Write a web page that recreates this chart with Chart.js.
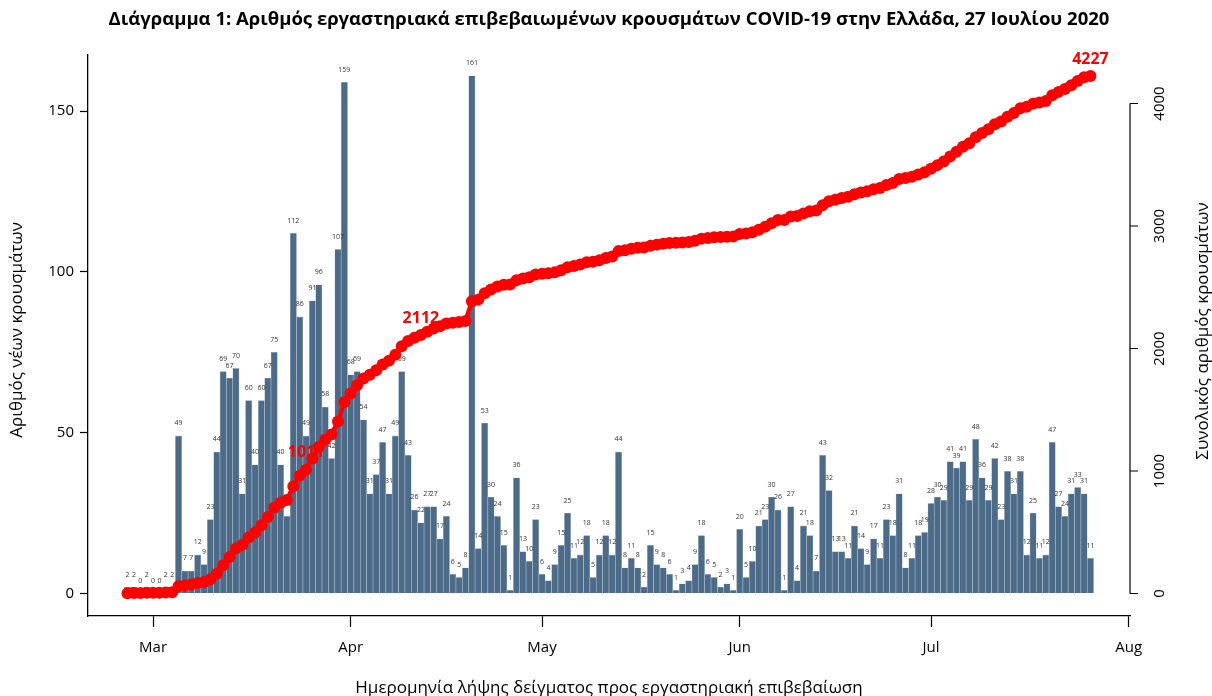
<!DOCTYPE html>
<html>
<head>
<meta charset="utf-8">
<script src="https://cdn.jsdelivr.net/npm/chart.js@4.4.1/dist/chart.umd.min.js"></script>
<style>
  html, body { margin: 0; padding: 0; background: #ffffff; }
  #wrap { width: 1212px; height: 696px; position: relative; }
  canvas { display: block; }
</style>
</head>
<body>
<div id="wrap"><canvas id="c" width="1212" height="696"></canvas></div>
<script>
// ---------------- DATA ----------------
const titleText = 'Διάγραμμα 1: Αριθμός εργαστηριακά επιβεβαιωμένων κρουσμάτων COVID-19 στην Ελλάδα, 27 Ιουλίου 2020';
const xTitle = 'Ημερομηνία λήψης δείγματος προς εργαστηριακή επιβεβαίωση';
const yLeftTitle = 'Αριθμός νέων κρουσμάτων';
const yRightTitle = 'Συνολικός αριθμός κρουσμάτων';

const firstDate = '2020-02-26';        // date of first bar
const firstDayOffset = -4;             // Feb 26 relative to Mar 1

// daily new cases, Feb 26 .. Feb 29
const febCases = [2, 2, 0, 2];
// March 1 .. 31
const marCases = [0, 0, 2, 2, 49, 7, 7, 12, 9, 23, 44, 69, 67, 70, 31, 60, 40, 60, 67, 75, 40, 24, 112, 86, 49, 91, 96, 58, 42, 107, 159];
// April 1 .. 30
const aprCases = [68, 69, 54, 31, 37, 47, 31, 49, 69, 43, 26, 22, 27, 27, 17, 24, 6, 5, 8, 161, 14, 53, 30, 24, 15, 1, 36, 13, 10, 23];
// May 1 .. 31
const mayCases = [6, 4, 9, 15, 25, 11, 12, 18, 5, 12, 18, 12, 44, 8, 11, 8, 2, 15, 9, 8, 6, 1, 3, 4, 9, 18, 6, 5, 2, 3, 1];
// June 1 .. 30
const junCases = [20, 5, 10, 21, 23, 30, 26, 1, 27, 4, 21, 18, 7, 43, 32, 13, 13, 11, 21, 14, 9, 17, 11, 23, 18, 31, 8, 11, 18, 19];
// July 1 .. 26
const julCases = [28, 30, 29, 41, 39, 41, 29, 48, 36, 29, 42, 23, 38, 31, 38, 12, 25, 11, 12, 47, 27, 24, 31, 33, 31, 11];

// labelled cumulative totals (index of day from first bar, text)
const cumLabelIdx = [28, 46, 151];
const cumLabelText = ['1011', '2112', '4227'];

// x-axis ticks (days from Mar 1) and labels
const monthTickDays = [0, 31, 61, 92, 122, 153];
const monthTickLabels = ['Mar', 'Apr', 'May', 'Jun', 'Jul', 'Aug'];

const leftTicks = [0, 50, 100, 150];
const rightTicks = [0, 1000, 2000, 3000, 4000];

// ---------------- BUILD ----------------
const daily = [].concat(febCases, marCases, aprCases, mayCases, junCases, julCases);
const cumulative = [];
daily.reduce((s, v) => { const t = s + v; cumulative.push(t); return t; }, 0);
const xs = daily.map((v, i) => i + firstDayOffset);

const FONT = "'Open Sans', 'DejaVu Sans', sans-serif";
const BAR_COLOR = '#4b6b89';
const RED = '#ff0000';

const overlay = {
  id: 'overlay',
  afterDatasetDraw(chart, args) {
    if (args.index !== 1) return;
    const ctx = chart.ctx;
    const meta = chart.getDatasetMeta(1);
    const ys = chart.scales.y;
    ctx.save();
    ctx.font = '7px ' + FONT;
    ctx.fillStyle = '#333333';
    ctx.textAlign = 'center';
    ctx.textBaseline = 'middle';
    meta.data.forEach((bar, i) => {
      const top = ys.getPixelForValue(daily[i]);
      ctx.fillText(String(daily[i]), bar.x, top - 12.5);
    });
    ctx.restore();
  },
  afterDraw(chart) {
    const ctx = chart.ctx;
    const ca = chart.chartArea;
    const y2 = chart.scales.y2;
    const meta = chart.getDatasetMeta(0);
    ctx.save();
    // cumulative labels
    ctx.font = 'bold 16px ' + FONT;
    ctx.fillStyle = RED;
    ctx.textAlign = 'center';
    ctx.textBaseline = 'middle';
    cumLabelIdx.forEach((idx, k) => {
      const p = meta.data[idx];
      ctx.fillText(cumLabelText[k], p.x, p.y - 17);
    });

    // right axis (line only between first and last tick)
    const xr = ca.right;
    const yTop = y2.getPixelForValue(rightTicks[rightTicks.length - 1]);
    const yBot = y2.getPixelForValue(rightTicks[0]);
    ctx.strokeStyle = '#000';
    ctx.lineWidth = 1.2;
    ctx.beginPath();
    ctx.moveTo(xr, yTop); ctx.lineTo(xr, yBot);
    rightTicks.forEach(v => {
      const yy = y2.getPixelForValue(v);
      ctx.moveTo(xr, yy); ctx.lineTo(xr + 8, yy);
    });
    ctx.stroke();
    ctx.fillStyle = '#000';
    ctx.font = '15px ' + FONT;
    rightTicks.forEach(v => {
      const yy = y2.getPixelForValue(v);
      ctx.save();
      ctx.translate(xr + 30, yy);
      ctx.rotate(-Math.PI / 2);
      ctx.textAlign = 'center';
      ctx.textBaseline = 'middle';
      ctx.fillText(String(v), 0, 0);
      ctx.restore();
    });

    // axis titles
    ctx.font = '17px ' + FONT;
    ctx.textAlign = 'center';
    ctx.textBaseline = 'middle';
    ctx.fillText(xTitle, (ca.left + ca.right) / 2, 688);
    ctx.save();
    ctx.translate(17, 330);
    ctx.rotate(-Math.PI / 2);
    ctx.fillText(yLeftTitle, 0, 0);
    ctx.restore();
    ctx.save();
    ctx.translate(1203, 331);
    ctx.rotate(-Math.PI / 2);
    ctx.fillText(yRightTitle, 0, 0);
    ctx.restore();

    // main title
    ctx.font = 'bold 18.5px ' + FONT;
    ctx.fillText(titleText, 609, 20);
    ctx.restore();
  }
};

new Chart(document.getElementById('c'), {
  type: 'bar',
  data: {
    datasets: [
      {
        type: 'line',
        label: 'cumulative',
        data: xs.map((x, i) => ({ x: x, y: cumulative[i] })),
        yAxisID: 'y2',
        borderColor: RED,
        backgroundColor: RED,
        borderWidth: 4.5,
        pointRadius: 6,
        pointBackgroundColor: RED,
        pointBorderWidth: 0,
        tension: 0,
        order: 0
      },
      {
        type: 'bar',
        label: 'daily',
        data: xs.map((x, i) => ({ x: x, y: daily[i] })),
        yAxisID: 'y',
        backgroundColor: BAR_COLOR,
        borderColor: '#b4c4d3',
        borderWidth: 0.6,
        barPercentage: 1,
        categoryPercentage: 1,
        order: 1
      }
    ]
  },
  options: {
    responsive: false,
    animation: false,
    devicePixelRatio: 1,
    layout: { padding: { top: 55, left: 0, right: 0, bottom: 0 } },
    plugins: { legend: { display: false }, tooltip: { enabled: false }, title: { display: false } },
    scales: {
      x: {
        type: 'linear',
        offset: false,
        min: -10.2,
        max: 153.2,
        afterBuildTicks: s => { s.ticks = monthTickDays.map(v => ({ value: v })); },
        afterFit: s => { s.height = 80; },
        ticks: {
          autoSkip: false, maxRotation: 0, minRotation: 0,
          font: { family: FONT, size: 15 }, color: '#000', padding: 12,
          callback: v => monthTickLabels[monthTickDays.indexOf(v)]
        },
        grid: { offset: false, drawOnChartArea: false, drawTicks: true, tickLength: 11, color: '#000', tickWidth: 1.2 },
        border: { display: true, color: '#000', width: 1.3 }
      },
      y: {
        type: 'linear',
        position: 'left',
        min: -7.0,
        max: 167.44,
        afterBuildTicks: s => { s.ticks = leftTicks.map(v => ({ value: v })); },
        afterFit: s => { s.width = 88; },
        ticks: { font: { family: FONT, size: 15 }, color: '#000', padding: 6 },
        grid: { drawOnChartArea: false, drawTicks: true, tickLength: 8, color: '#000', tickWidth: 1.2 },
        border: { display: true, color: '#000', width: 1.3 }
      },
      y2: {
        type: 'linear',
        position: 'right',
        min: -183.8,
        max: 4396.08,
        afterFit: s => { s.width = 82; },
        ticks: { display: false },
        grid: { display: false, drawOnChartArea: false },
        border: { display: false }
      }
    }
  },
  plugins: [overlay]
});
</script>
</body>
</html>
